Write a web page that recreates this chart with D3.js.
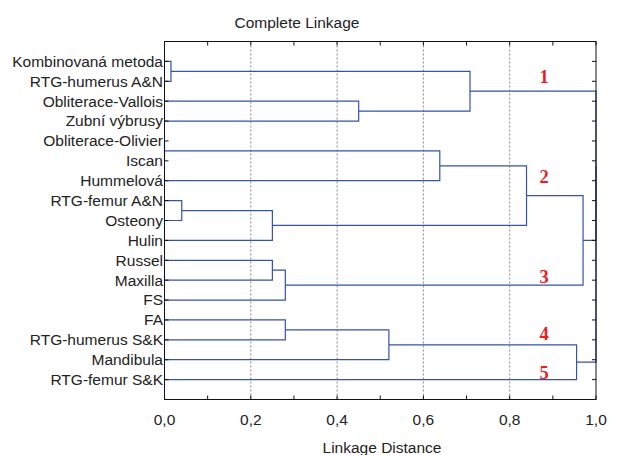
<!DOCTYPE html>
<html>
<head>
<meta charset="utf-8">
<script src="https://cdn.jsdelivr.net/npm/d3@7/dist/d3.min.js"></script>
<style>
body { margin: 0; background: #fff; }
text { font-family: "Liberation Sans", Arial, sans-serif; fill: #222; }
</style>
</head>
<body>
<script>
// leaves in drawing order, top to bottom
var leaves = ["Kombinovaná metoda", "RTG-humerus A&N", "Obliterace-Vallois", "Zubní výbrusy",
  "Obliterace-Olivier", "Iscan", "Hummelová", "RTG-femur A&N", "Osteony", "Hulin",
  "Russel", "Maxilla", "FS", "FA", "RTG-humerus S&K", "Mandibula", "RTG-femur S&K"]

// merges: [child a, child b, distance]; ids 0..16 are leaves, 17+ are merges in order
var mergeA = [4, 0, 7, 2, 19, 10, 22, 13, 24, 17, 18, 26, 25, 28, 27, 31]
var mergeB = [5, 1, 8, 3, 9, 11, 12, 14, 15, 6, 20, 21, 16, 23, 30, 29]
var mergeDist = [0.0, 0.015, 0.04, 0.45, 0.25, 0.25, 0.28, 0.28, 0.52, 0.638, 0.708, 0.839, 0.955, 0.97, 1.0, 1.0]

var xTicks = [0, 0.2, 0.4, 0.6, 0.8, 1.0]
var clusterNames = ["1", "2", "3", "4", "5"]
var clusterRows = [1.75, 6.8, 11.84, 14.66, 16.62]

var width = 618, height = 455
var plotL = 164.5, plotR = 596, plotT = 41.5, plotB = 399.5

var svg = d3.select("body").append("svg")
  .attr("width", width).attr("height", height)

var x = d3.scaleLinear().domain([0, 1]).range([plotL, plotR])
var y = d3.scaleLinear().domain([0, leaves.length + 1]).range([plotT, plotB])

// gridlines
svg.append("g").selectAll("line").data([0.2, 0.4, 0.6, 0.8]).enter().append("line")
  .attr("x1", function(d) { return x(d) }).attr("x2", function(d) { return x(d) })
  .attr("y1", plotT).attr("y2", plotB)
  .attr("stroke", "#888").attr("stroke-width", 1).attr("stroke-dasharray", "2,2")

// node positions
var nodeX = [], nodeY = []
leaves.forEach(function(l, i) { nodeX.push(0); nodeY.push(i + 1) })
mergeDist.forEach(function(d, i) {
  nodeX.push(d)
  nodeY.push((nodeY[mergeA[i]] + nodeY[mergeB[i]]) / 2)
})

var tree = svg.append("g").attr("fill", "none").attr("stroke", "#3553a8").attr("stroke-width", 1.2)
mergeDist.forEach(function(d, i) {
  var a = mergeA[i], b = mergeB[i]
  var path = d3.path()
  path.moveTo(x(nodeX[a]), y(nodeY[a]))
  path.lineTo(x(d), y(nodeY[a]))
  path.lineTo(x(d), y(nodeY[b]))
  path.lineTo(x(nodeX[b]), y(nodeY[b]))
  tree.append("path").attr("d", path.toString())
})

// frame and axes
svg.append("rect").attr("x", plotL).attr("y", plotT)
  .attr("width", plotR - plotL).attr("height", plotB - plotT)
  .attr("fill", "none").attr("stroke", "#111").attr("stroke-width", 1)

var minor = d3.range(0, 11).map(function(i) { return i / 10 })
var tk = svg.append("g").attr("stroke", "#111").attr("stroke-width", 1)
minor.forEach(function(v) {
  tk.append("line").attr("x1", x(v)).attr("x2", x(v)).attr("y1", plotT).attr("y2", plotT + 4)
  tk.append("line").attr("x1", x(v)).attr("x2", x(v)).attr("y1", plotB).attr("y2", plotB - 4)
})
leaves.forEach(function(l, i) {
  tk.append("line").attr("x1", plotL).attr("x2", plotL + 4).attr("y1", y(i + 1)).attr("y2", y(i + 1))
  tk.append("line").attr("x1", plotR).attr("x2", plotR - 4).attr("y1", y(i + 1)).attr("y2", y(i + 1))
})

// leaf labels
svg.append("g").selectAll("text").data(leaves).enter().append("text")
  .attr("x", plotL - 1.5).attr("y", function(d, i) { return y(i + 1) })
  .attr("dy", "0.35em").attr("text-anchor", "end").attr("font-size", 15.5)
  .text(function(d) { return d })

// x tick labels
var fmt = function(d) { return d3.format(".1f")(d).replace(".", ",") }
svg.append("g").selectAll("text").data(xTicks).enter().append("text")
  .attr("x", function(d) { return x(d) }).attr("y", 425)
  .attr("text-anchor", "middle").attr("font-size", 15.5)
  .text(fmt)

svg.append("text").attr("x", 382).attr("y", 452.5).attr("text-anchor", "middle")
  .attr("font-size", 15.5).text("Linkage Distance")
svg.append("text").attr("x", 297).attr("y", 27.5).attr("text-anchor", "middle")
  .attr("font-size", 15.5).text("Complete Linkage")

// cluster numbers
svg.append("g").selectAll("text").data(clusterNames).enter().append("text")
  .attr("x", 544).attr("y", function(d, i) { return y(clusterRows[i]) })
  .attr("dy", "0.35em").attr("text-anchor", "middle")
  .attr("font-size", 18.5).attr("font-weight", "bold")
  .style("font-family", "'Liberation Serif', 'Times New Roman', serif")
  .style("fill", "#ee1c25")
  .text(function(d) { return d })
</script>
</body>
</html>
